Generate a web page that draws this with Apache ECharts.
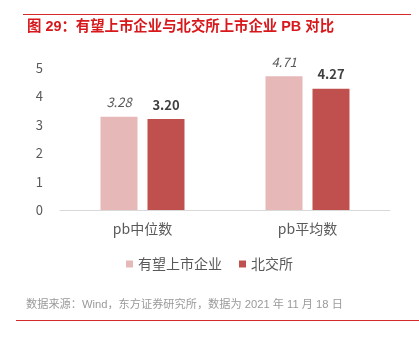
<!DOCTYPE html>
<html>
<head>
<meta charset="utf-8">
<script src="https://cdn.jsdelivr.net/npm/echarts@6/dist/echarts.min.js"></script>
<style>
  html, body { margin: 0; padding: 0; background: #fff; }
  #chart { width: 419px; height: 344px; }
</style>
</head>
<body>
<div id="chart"></div>
<script>
// PB comparison: prospective listings vs. Beijing Stock Exchange listings
const categories = ['pb中位数', 'pb平均数'];
const seriesNames = ['有望上市企业', '北交所'];
const prospectValues = [3.28, 4.71];
const bseValues = [3.20, 4.27];
const yTicks = [0, 1, 2, 3, 4, 5];

const FONT = '"Noto Sans CJK SC", "Noto Sans", sans-serif';
const HEAD_FONT = '"Liberation Sans", "Noto Sans CJK SC", sans-serif';
const chart = echarts.init(document.getElementById('chart'), null, { renderer: 'canvas' });

chart.setOption({
  backgroundColor: '#ffffff',
  animation: false,
  textStyle: { fontFamily: FONT },
  graphic: [
    { type: 'line', shape: { x1: 23, y1: 14.5, x2: 411, y2: 14.5 }, style: { stroke: '#d7282a', lineWidth: 1.2 } },
    { type: 'text', left: 27, top: 20, style: { text: '图 29：有望上市企业与北交所上市企业 PB 对比', fill: '#d7191c', font: 'bold 14.4px ' + HEAD_FONT } },
    { type: 'text', left: 26, top: 299, style: { text: '数据来源：Wind，东方证券研究所，数据为 2021 年 11 月 18 日', fill: '#9a9a9a', font: '11.2px ' + HEAD_FONT } },
    { type: 'line', shape: { x1: 16, y1: 320.5, x2: 419, y2: 320.5 }, style: { stroke: '#d7282a', lineWidth: 1.2 } }
  ],
  legend: {
    data: seriesNames,
    top: 252,
    left: 'center',
    itemWidth: 7,
    itemHeight: 7,
    itemGap: 17,
    icon: 'rect',
    textStyle: { color: '#595959', fontSize: 14, fontFamily: FONT, padding: [0, 0, 0, 0] }
  },
  grid: { left: 60, right: 29, top: 68, bottom: 134, containLabel: false },
  xAxis: {
    type: 'category',
    data: categories,
    axisLine: { lineStyle: { color: '#d9d9d9' } },
    axisTick: { show: false },
    axisLabel: { color: '#595959', fontSize: 14, margin: 12, fontFamily: FONT }
  },
  yAxis: {
    type: 'value',
    min: yTicks[0],
    max: yTicks[yTicks.length - 1],
    interval: 1,
    splitLine: { show: false },
    axisLine: { show: false },
    axisTick: { show: false },
    axisLabel: { color: '#595959', fontSize: 13, margin: 17, fontFamily: FONT }
  },
  series: [
    {
      name: seriesNames[0],
      type: 'bar',
      data: prospectValues,
      barWidth: 37,
      barGap: '27%',
      itemStyle: { color: '#e6b9b8' },
      label: {
        show: true, position: 'top', distance: 8,
        formatter: p => p.value.toFixed(2),
        color: '#595959', fontSize: 13, fontStyle: 'italic', fontFamily: FONT
      }
    },
    {
      name: seriesNames[1],
      type: 'bar',
      data: bseValues,
      barWidth: 37,
      barGap: '27%',
      itemStyle: { color: '#c0504d' },
      label: {
        show: true, position: 'top', distance: 8,
        formatter: p => p.value.toFixed(2),
        color: '#404040', fontSize: 13, fontWeight: 'bold', fontFamily: FONT
      }
    }
  ]
});
</script>
</body>
</html>
